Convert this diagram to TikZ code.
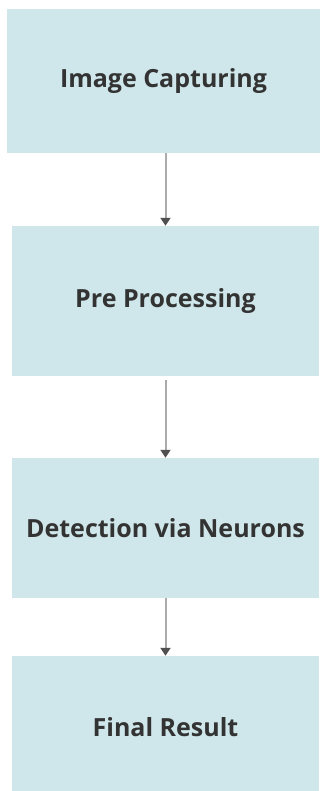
\documentclass[tikz,border=0pt]{standalone}
\usepackage{fontspec}
\setmainfont{Open Sans}
\usetikzlibrary{arrows.meta}
\definecolor{boxfill}{HTML}{CFE7EA}
\definecolor{boxtext}{HTML}{333333}
\definecolor{linegray}{HTML}{ABABAB}
\definecolor{tipgray}{HTML}{505050}
\begin{document}
\begin{tikzpicture}[x=1pt,y=-1pt,
    stage/.style={fill=boxfill,inner sep=0pt,text=boxtext,
        font=\fontsize{25}{28}\selectfont\bfseries,minimum width=307pt},
    flow/.style={draw=linegray,line width=2pt,
        -{Triangle[width=10pt,length=8pt,color=tipgray]}}]
    \useasboundingbox (0,0) rectangle (320,791);
    \clip (0,0) rectangle (320,791);
    \node[stage,minimum width=313pt,minimum height=144pt] (cap) at (163.5,81) {Image Capturing};
    \node[stage,minimum height=150pt] (pre) at (165.5,301) {Pre Processing};
    \node[stage,minimum height=140pt] (det) at (165.5,528) {Detection via Neurons};
    \node[stage,minimum height=143pt] (res) at (165.5,727.5) {Final Result};
    \draw[flow] (cap.south -| pre.north) -- (pre.north);
    \draw[flow] ([yshift=-4pt]pre.south) -- (det.north);
    \draw[flow] (det.south) -- (res.north);
\end{tikzpicture}
\end{document}
